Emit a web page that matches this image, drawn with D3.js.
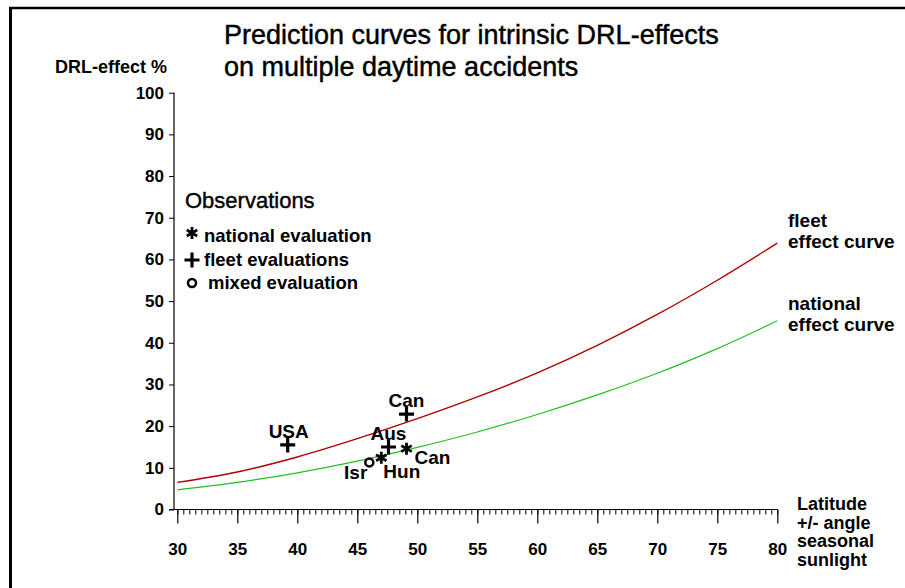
<!DOCTYPE html>
<html>
<head>
<meta charset="utf-8">
<script src="https://cdn.jsdelivr.net/npm/d3@7"></script>
<style>
  body { margin: 0; background: #fff; }
  svg { display: block; font-family: "Liberation Sans", Arial, sans-serif; }
</style>
</head>
<body>
<div id="chart"></div>
<script>
// latitude +/- angle seasonal sunlight
var latitudes = [30, 35, 40, 45, 50, 55, 60, 65, 70, 75, 80];
// predicted DRL-effect % per latitude
var fleetCurve = [6.5, 9.0, 12.6, 17.0, 21.8, 27.0, 32.8, 39.4, 46.8, 55.0, 63.9];
var nationalCurve = [4.7, 6.5, 8.8, 11.6, 14.9, 18.6, 22.8, 27.5, 32.7, 38.6, 45.3];

// observations
var obsNames = ["USA", "Can", "Aus", "Can", "Hun", "Isr"];
var obsTypes = ["fleet", "fleet", "fleet", "national", "national", "mixed"];
var obsLat = [39.2, 49.1, 47.6, 49.1, 47.0, 46.0];
var obsEffect = [15.5, 22.9, 15.0, 14.6, 12.4, 11.3];

// tick labels
var xTicks = [30, 35, 40, 45, 50, 55, 60, 65, 70, 75, 80];
var yTicks = [0, 10, 20, 30, 40, 50, 60, 70, 80, 90, 100];

// legend
var legendTypes = ["national", "fleet", "mixed"];
var legendLabels = ["national evaluation", "fleet evaluations", "mixed evaluation"];

// label placement for each observation (layout only)
var obsLabelDx = [1, 0, 0, 8, 2, -2];
var obsLabelDy = [-7, -7, -7, 15, 20, 17];
var obsLabelAnchor = ["middle", "middle", "middle", "start", "start", "end"];

var width = 905,
  height = 588;

var x = d3.scaleLinear().domain([30, 80]).range([177.3, 777.3]);
var y = d3.scaleLinear().domain([0, 100]).range([509.5, 92.7]);

var svg = d3.select("#chart").append("svg")
  .attr("width", width)
  .attr("height", height);

// frame (only top and left edges show)
svg.append("line")
  .attr("x1", 9).attr("x2", width).attr("y1", 8).attr("y2", 8)
  .attr("stroke", "#000").attr("stroke-width", 2.5);
svg.append("line")
  .attr("x1", 10.5).attr("x2", 10.5).attr("y1", 7).attr("y2", height)
  .attr("stroke", "#000").attr("stroke-width", 3);

// title
var title = svg.append("text")
  .attr("x", 224)
  .attr("font-size", 27)
  .attr("fill", "#000")
  .attr("stroke", "#000").attr("stroke-width", 0.45);
title.append("tspan").attr("x", 224).attr("y", 44).text("Prediction curves for intrinsic DRL-effects");
title.append("tspan").attr("x", 224).attr("y", 76).text("on multiple daytime accidents");

svg.append("text")
  .attr("x", 55).attr("y", 73)
  .attr("font-size", 18).attr("font-weight", "bold")
  .text("DRL-effect %");

// y axis
var yAxis = svg.append("g")
  .attr("transform", "translate(174,0)")
  .call(d3.axisLeft(y).tickValues(yTicks).tickSize(5).tickPadding(5).tickSizeOuter(0));
yAxis.select(".domain").remove();
yAxis.selectAll("text")
  .attr("font-size", 17).attr("font-weight", "bold").attr("fill", "#000")
  .attr("font-family", "Liberation Sans, Arial, sans-serif");
yAxis.selectAll("line").attr("stroke", "#000");
svg.append("line")
  .attr("x1", 174).attr("x2", 174).attr("y1", y(100)).attr("y2", y(0))
  .attr("stroke", "#000").attr("stroke-width", 1.2);

// x axis: major ticks with labels, minor ticks every half degree
var xAxis = svg.append("g")
  .attr("transform", "translate(0," + y(0) + ")")
  .call(d3.axisBottom(x).tickValues(xTicks).tickSize(14).tickPadding(19).tickSizeOuter(0));
xAxis.select(".domain").remove();
xAxis.selectAll("text")
  .attr("font-size", 17).attr("font-weight", "bold").attr("fill", "#000")
  .attr("font-family", "Liberation Sans, Arial, sans-serif");
xAxis.selectAll("line").attr("stroke", "#000").attr("stroke-width", 1.2);

var minor = svg.append("g")
  .attr("transform", "translate(0," + y(0) + ")")
  .call(d3.axisBottom(x).tickValues(d3.range(30, 80.01, 0.5)).tickSize(5).tickFormat("").tickSizeOuter(0));
minor.select(".domain").remove();
minor.selectAll("line").attr("stroke", "#000");

svg.append("line")
  .attr("x1", 169).attr("x2", x(80)).attr("y1", y(0)).attr("y2", y(0))
  .attr("stroke", "#000").attr("stroke-width", 1.2);

// axis title at right end
var xTitle = svg.append("text")
  .attr("font-size", 18).attr("font-weight", "bold");
["Latitude", "+/- angle", "seasonal", "sunlight"].forEach(function(t, i) {
  xTitle.append("tspan").attr("x", 797).attr("y", 510 + i * 18.5).text(t);
});

// prediction curves
var line = d3.line()
  .x(function(d, i) { return x(latitudes[i]); })
  .y(function(d) { return y(d); })
  .curve(d3.curveMonotoneX);

svg.append("path")
  .datum(nationalCurve)
  .attr("d", line)
  .attr("fill", "none")
  .attr("stroke", "#22c022")
  .attr("stroke-width", 1.2);

svg.append("path")
  .datum(fleetCurve)
  .attr("d", line)
  .attr("fill", "none")
  .attr("stroke", "#b00000")
  .attr("stroke-width", 1.4);

// curve labels
var curveLabels = [["fleet", "effect curve"], ["national", "effect curve"]];
var curveLabelY = [227, 310];
curveLabels.forEach(function(lines, k) {
  var t = svg.append("text").attr("font-size", 19).attr("font-weight", "bold");
  lines.forEach(function(s, i) {
    t.append("tspan").attr("x", 788).attr("y", curveLabelY[k] + i * 21).text(s);
  });
});

// marker drawing
function drawMarker(g, type) {
  if (type == "fleet") {
    g.append("path")
      .attr("d", "M-7.5,0H7.5M0,-7.5V7.5")
      .attr("stroke", "#000").attr("stroke-width", 3.2).attr("fill", "none");
  } else if (type == "national") {
    var r = 6;
    var d = "";
    [90, 30, 150].forEach(function(a) {
      var rad = a * Math.PI / 180;
      d += "M" + (-r * Math.cos(rad)) + "," + (-r * Math.sin(rad)) +
        "L" + (r * Math.cos(rad)) + "," + (r * Math.sin(rad));
    });
    g.append("path")
      .attr("d", d)
      .attr("stroke", "#000").attr("stroke-width", 2.8).attr("fill", "none");
  } else {
    g.append("circle")
      .attr("r", 4)
      .attr("fill", "#fff").attr("stroke", "#000").attr("stroke-width", 2.5);
  }
}

// observations
obsNames.forEach(function(name, i) {
  var g = svg.append("g")
    .attr("transform", "translate(" + x(obsLat[i]) + "," + y(obsEffect[i]) + ")");
  drawMarker(g, obsTypes[i]);
  g.append("text")
    .attr("x", obsLabelDx[i])
    .attr("y", obsLabelDy[i])
    .attr("text-anchor", obsLabelAnchor[i])
    .attr("font-size", 19).attr("font-weight", "bold")
    .text(name);
});

// legend
svg.append("text")
  .attr("x", 185).attr("y", 208)
  .attr("font-size", 22)
  .attr("stroke", "#000").attr("stroke-width", 0.4)
  .text("Observations");

var legendY = [242, 266, 289];
legendTypes.forEach(function(type, i) {
  var g = svg.append("g")
    .attr("transform", "translate(192," + (legendY[i] - (type == "national" ? 9 : 6)) + ")");
  drawMarker(g, type);
  svg.append("text")
    .attr("x", type == "mixed" ? 208 : 204)
    .attr("y", legendY[i])
    .attr("font-size", 18.5).attr("font-weight", "bold")
    .text(legendLabels[i]);
});
</script>
</body>
</html>
